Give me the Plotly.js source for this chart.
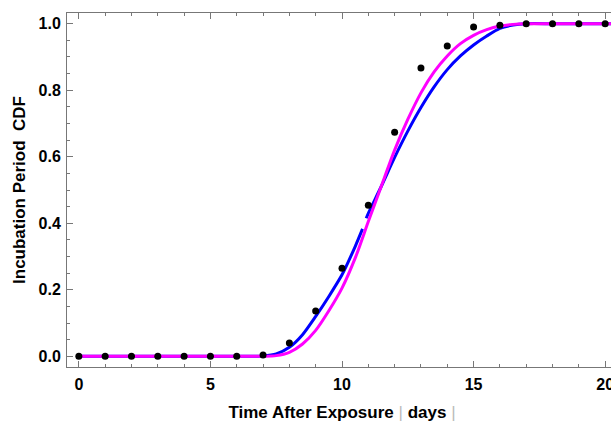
<!DOCTYPE html>
<html>
<head>
<meta charset="utf-8">
<script src="https://cdn.plot.ly/plotly-3.0.1.min.js"></script>
<style>
html,body{margin:0;padding:0;overflow:hidden;background:#fff;}
#chart{width:630px;height:423px;}
</style>
</head>
<body>
<div id="chart"></div>
<script>
// Observed incubation period CDF (black points)
const days = [0,1,2,3,4,5,6,7,8,9,10,11,12,13,14,15,16,17,18,19,20];
const observedCDF = [0,0,0,0,0,0,0,0.004,0.04,0.136,0.265,0.454,0.674,0.867,0.933,0.99,0.995,1,1,1,1];

// Fitted curve 1 (blue), with the small break near day 10.85
const blueX = [0,1,2,3,4,5,6,6.5,7,7.5,8,8.5,9,9.5,10,10.5,10.78,10.85,10.92,11,11.5,12,12.5,13,13.5,14,14.5,15,15.5,16,16.5,17,18,19,20,20.5];
const blueY = [0,0,0,0,0,0,0,0,0.001,0.007,0.027,0.065,0.12,0.18,0.245,0.33,0.383,null,0.415,0.43,0.512,0.598,0.677,0.748,0.81,0.862,0.903,0.936,0.963,0.986,0.996,1,1,1,1,1];

// Fitted curve 2 (magenta)
const magentaX = [0,1,2,3,4,5,6,6.5,7,7.5,8,8.5,9,9.5,10,10.5,11,11.5,12,12.5,13,13.5,14,14.5,15,15.5,16,16.5,17,18,19,20,20.5];
const magentaY = [0,0,0,0,0,0,0,0,0,0.002,0.012,0.037,0.078,0.137,0.205,0.295,0.405,0.513,0.62,0.712,0.792,0.855,0.903,0.94,0.965,0.982,0.993,0.998,1,1,1,1,1];

const xTickVals = [0,5,10,15,20];
const yTickVals = [0,0.2,0.4,0.6,0.8,1.0];

const traces = [
  {x: blueX, y: blueY, type: 'scatter', mode: 'lines', connectgaps: false,
   line: {color: '#0000ff', width: 3, shape: 'spline', smoothing: 0.7}, hoverinfo: 'skip', showlegend: false},
  {x: magentaX, y: magentaY, type: 'scatter', mode: 'lines',
   line: {color: '#ff00ff', width: 3, shape: 'spline', smoothing: 0.7}, hoverinfo: 'skip', showlegend: false},
  {x: days, y: observedCDF, type: 'scatter', mode: 'markers',
   marker: {color: '#000000', size: 7}, showlegend: false}
];

const axisCommon = {
  showgrid: false, zeroline: false, showline: true, linecolor: '#777', linewidth: 1,
  mirror: 'ticks', ticks: 'inside', tickcolor: '#777', ticklen: 6, tickwidth: 1,
  tickfont: {family: 'Liberation Sans, Arial, sans-serif', size: 16, color: '#000', weight: 'bold'}
};

const layout = {
  width: 630, height: 423,
  margin: {l: 67, r: 12.5, t: 13, b: 56},
  paper_bgcolor: '#fff', plot_bgcolor: '#fff',
  xaxis: Object.assign({}, axisCommon, {
    range: [-0.45, 20.45], tickvals: xTickVals, ticklabelstandoff: 3,
    minor: {ticks: 'inside', dtick: 1, ticklen: 3, tickcolor: '#777'},
    title: {text: 'Time After Exposure<span style="color:#bbb;font-weight:normal"> | </span>days<span style="color:#bbb;font-weight:normal"> |</span>',
            font: {family: 'Liberation Sans, Arial, sans-serif', size: 17, color: '#000', weight: 'bold'}, standoff: 13}
  }),
  yaxis: Object.assign({}, axisCommon, {
    range: [-0.0322, 1.0322], tickvals: yTickVals, tickformat: '.1f', ticklabelstandoff: 2,
    minor: {ticks: 'inside', dtick: 0.05, tick0: 0, ticklen: 3, tickcolor: '#777'},
    title: {text: 'Incubation Period  CDF',
            font: {family: 'Liberation Sans, Arial, sans-serif', size: 17, color: '#000', weight: 'bold'}, standoff: 8}
  })
};

Plotly.newPlot('chart', traces, layout, {displayModeBar: false, staticPlot: true});
</script>
</body>
</html>
